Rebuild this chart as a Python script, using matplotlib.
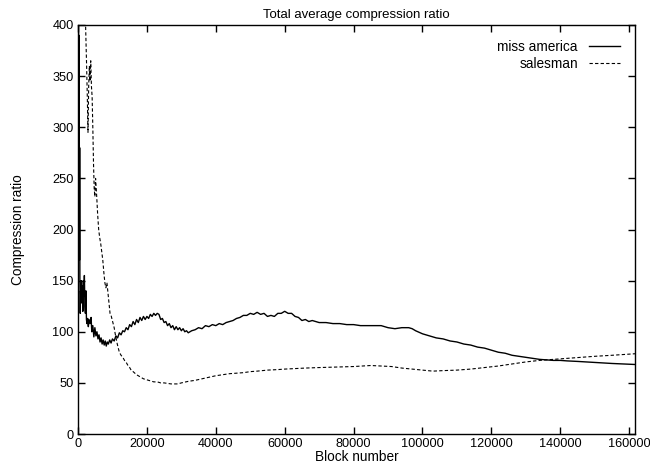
import matplotlib
matplotlib.use("Agg")
import matplotlib.pyplot as plt

plt.rcParams['font.family'] = ['Liberation Sans', 'DejaVu Sans']

# miss america (solid)
ma_x = [0, 60, 120, 180, 240, 300, 360, 420, 480, 550, 650, 750, 850, 950, 1100, 1250, 1400,
        1550, 1700, 1850,
        2000, 2150, 2300, 2450, 2600, 2800, 3000, 3200, 3500, 3800, 4000, 4300, 4600, 4900,
        5200, 5500, 5800, 6100, 6400, 6700, 7000, 7300, 7600, 7900, 8200, 8500, 8800, 9200,
        9600, 10000, 10500, 11000, 11500, 12000, 12500, 13000, 13500, 14000, 14500, 15000,
        15500, 16000, 16500, 17000, 17500, 18000, 18500, 19000, 19500, 20000, 20500, 21000,
        21500, 22000, 22500, 23000, 23500, 24000, 24500, 25000, 25500, 26000, 26500, 27000,
        27500, 28000, 28500, 29000, 29500, 30000, 30500, 31000, 31500, 32000, 33000, 34000,
        35000, 36000, 37000, 38000, 39000, 40000, 41000, 42000, 43000, 44000, 45000, 46000,
        47000, 48000, 49000, 50000, 51000, 52000, 53000, 54000, 55000, 56000, 57000, 58000,
        59000, 60000, 61000, 62000, 63000, 64000, 65000, 66000, 67000, 68000, 70000, 72000,
        74000, 76000, 78000, 80000, 82000, 84000, 86000, 88000, 90000, 92000, 94000, 96000,
        97000, 98000, 100000, 102000, 104000, 106000, 108000, 110000, 112000, 114000, 116000,
        118000, 120000, 122000, 124000, 126000, 128000, 130000, 132000, 134000, 136000,
        138000, 140000, 142000, 145000, 150000, 155000, 161700]
ma_y = [420, 260, 410, 220, 390, 190, 350, 170, 280, 150, 118, 140, 128, 150, 130, 145, 120,
        150, 135, 155,
        125, 118, 140, 112, 108, 113, 105, 112, 108, 114, 100, 106, 95, 104,
        96, 100, 93, 97, 90, 94, 88, 92, 87, 91, 86, 90, 88, 92,
        89, 93, 91, 96, 94, 99, 97, 101, 100, 104, 102, 107,
        105, 110, 107, 112, 109, 114, 111, 115, 112, 115, 113, 117,
        115, 118, 116, 118, 117, 112, 113, 109, 110, 106, 108, 104,
        106, 102, 105, 102, 104, 101, 103, 100, 101, 99, 101, 102,
        104, 103, 106, 105, 107, 106, 108, 107, 109, 110, 111, 113,
        114, 116, 116, 118, 117, 119, 117, 118, 115, 116, 115, 118,
        118, 120, 118, 118, 115, 114, 111, 112, 110, 111, 109, 109,
        108, 108, 107, 107, 106, 106, 106, 106, 104, 103, 104, 104,
        103, 101, 98, 96, 94, 93, 91, 90, 88, 87, 85,
        84, 82, 80, 79, 77, 76, 75, 74, 73, 72.5,
        72, 72, 71.5, 71, 70, 69, 68]

# salesman (dashed)
sm_x = [1800, 2200, 2500, 2700, 2900, 3100, 3300, 3500, 3700, 3900, 4100, 4300, 4500, 4700,
        4900, 5100, 5300, 5500, 5700, 6000, 6300, 6600, 6900, 7200, 7500, 7800, 8100, 8400,
        8700, 9000, 9300, 9600, 9900, 10200, 10500, 10800, 11100, 11400, 11700, 12000, 12500,
        13000, 13500, 14000, 14500, 15000, 15500, 16000, 17000, 18000, 19000, 20000, 21000,
        22000, 23000, 24000, 25000, 26000, 27000, 28000, 29000, 30000, 32000, 34000, 36000,
        38000, 40000, 42000, 44000, 46000, 48000, 50000, 52000, 55000, 58000, 60000, 63000,
        66000, 70000, 75000, 80000, 85000, 88000, 91000, 94000, 97000, 100000, 103000, 106000,
        110000, 114000, 118000, 122000, 126000, 130000, 134000, 138000, 142000, 146000,
        150000, 155000, 161700]
sm_y = [420, 400, 360, 330, 295, 340, 360, 345, 365, 340, 330, 300, 265, 240,
        232, 250, 240, 228, 215, 200, 192, 186, 178, 170, 158, 148, 143, 148,
        138, 128, 118, 116, 112, 108, 104, 98, 93, 88, 84, 80, 77,
        75, 72, 70, 67, 65, 62, 61, 58, 56, 54, 53, 52,
        51, 51, 50, 50, 49.5, 49, 49, 49, 50, 51.5, 52.5, 54,
        55.5, 57, 58, 59, 59.5, 60, 61, 61.5, 62.5, 63, 63.5, 64,
        64.5, 65, 65.5, 66, 67, 66.5, 66, 64.5, 63.5, 62.5, 61.5, 62,
        62.5, 63.5, 65, 66.5, 68.5, 70.5, 72, 73, 74, 75,
        76, 77, 78.5]

xticks = [0, 20000, 40000, 60000, 80000, 100000, 120000, 140000, 160000]
yticks = [0, 50, 100, 150, 200, 250, 300, 350, 400]

fig = plt.figure(figsize=(6.5, 4.68), dpi=100)
ax = fig.add_axes([0.12, 0.0726, 0.857, 0.874])

ax.plot(ma_x, ma_y, color='black', lw=1.0, label='miss america')
ax.plot(sm_x, sm_y, color='black', lw=0.8, ls=(0, (3, 2)), label='salesman')

ax.set_xlim(0, 161700)
ax.set_ylim(0, 400)
ax.set_xticks(xticks)
ax.set_yticks(yticks)
ax.set_xticklabels([str(t) for t in xticks])
ax.tick_params(direction='in', top=True, right=True, length=5, width=1, labelsize=9.2, pad=3)
for s in ax.spines.values():
    s.set_linewidth(1.0)

ax.set_title("Total average compression ratio", fontsize=9.5, pad=5)
ax.set_xlabel("Block number", fontsize=9.8, labelpad=0)
ax.set_ylabel("Compression ratio", fontsize=9.8, labelpad=20)

ax.legend(loc='upper right', frameon=False, markerfirst=False, fontsize=9.8,
          handlelength=2.3, labelspacing=0.2, borderaxespad=0.7)

fig.savefig("out.png", dpi=100)
